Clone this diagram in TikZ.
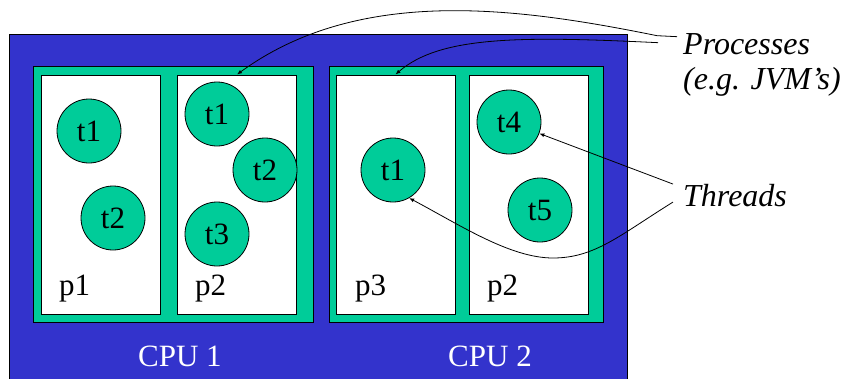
\documentclass[tikz,border=0pt]{standalone}
\usepackage{fontspec}
\setmainfont{Liberation Serif}
\usetikzlibrary{arrows.meta}
\definecolor{cpublue}{HTML}{3333CC}
\definecolor{thrgreen}{HTML}{00CC99}

\begin{document}
\begin{tikzpicture}[x=1pt,y=-1pt,
  cpu/.style={draw=black,fill=cpublue,line width=1pt},
  procframe/.style={draw=black,fill=thrgreen,line width=1pt},
  addr/.style={draw=black,fill=white,line width=1pt,minimum width=119pt,minimum height=239pt,inner sep=0pt},
  thread/.style={circle,draw=black,fill=thrgreen,line width=0.8pt,minimum size=64pt,inner sep=0pt,font=\fontsize{31}{36}\selectfont},
  lbl/.style={inner sep=0pt,anchor=base west,font=\fontsize{31}{36}\selectfont},
  hint/.style={inner sep=0pt,anchor=base west,font=\fontsize{32}{38}\selectfont\itshape},
  conn/.style={-{Latex[length=5pt,width=4pt]},line width=0.8pt}]
  \useasboundingbox (0,0) rectangle (854,378);
  % CPU boards
  \draw[cpu] (9,34) rectangle (627,382);
  \draw[procframe] (33,66) rectangle (313,322);
  \draw[procframe] (329,66) rectangle (603,322);
  % process address spaces
  \node[addr] (p1) at (101,194.5) {};
  \node[addr] (p2) at (237,194.5) {};
  \node[addr] (p3) at (395.5,194.5) {};
  \node[addr] (p4) at (529,194.5) {};
  \node[lbl] (p1lbl) at (59,295) {p1};
  \node[lbl] (p2lbl) at (195,295) {p2};
  \node[lbl] (p3lbl) at (355,295) {p3};
  \node[lbl] (p4lbl) at (487,295) {p2};
  % threads
  \node[thread] (t11) at (89,131) {t1};
  \node[thread] (t12) at (113,218) {t2};
  \node[thread] (t21) at (217,114) {t1};
  \node[thread] (t22) at (265,170) {t2};
  \node[thread] (t23) at (217,234) {t3};
  \node[thread] (t31) at (393,170) {t1};
  \node[thread] (t44) at (509,122) {t4};
  \node[thread] (t45) at (540,210) {t5};
  \node[lbl,text=white] (cpu1) at (138,366) {CPU 1};
  \node[lbl,text=white] (cpu2) at (448,366) {CPU 2};
  % side notes
  \node[hint] (procs) at (683,54) {Processes};
  \node[hint] (procsb) at (683,89) {(e.g. JVM’s)};
  \node[hint] (thr) at (683,206) {Threads};
  \draw[conn] ([xshift=-6pt,yshift=7pt]procs.west) -- ++(-20,-1)
    .. controls (520,8) and (360,-15) .. (p2.north);
  \draw[conn] ([xshift=-25pt,yshift=1pt]procs.west)
    .. controls (520,36) and (440,36) .. (p3.north);
  \draw[conn] ([xshift=-10pt,yshift=11pt]thr.west) -- (t44);
  \draw[conn] ([xshift=-10pt,yshift=-7pt]thr.west) .. controls (620,235) and (595,258) .. (553,258)
    .. controls (510,258) and (460,225) .. (t31.-60);
\end{tikzpicture}
\end{document}
